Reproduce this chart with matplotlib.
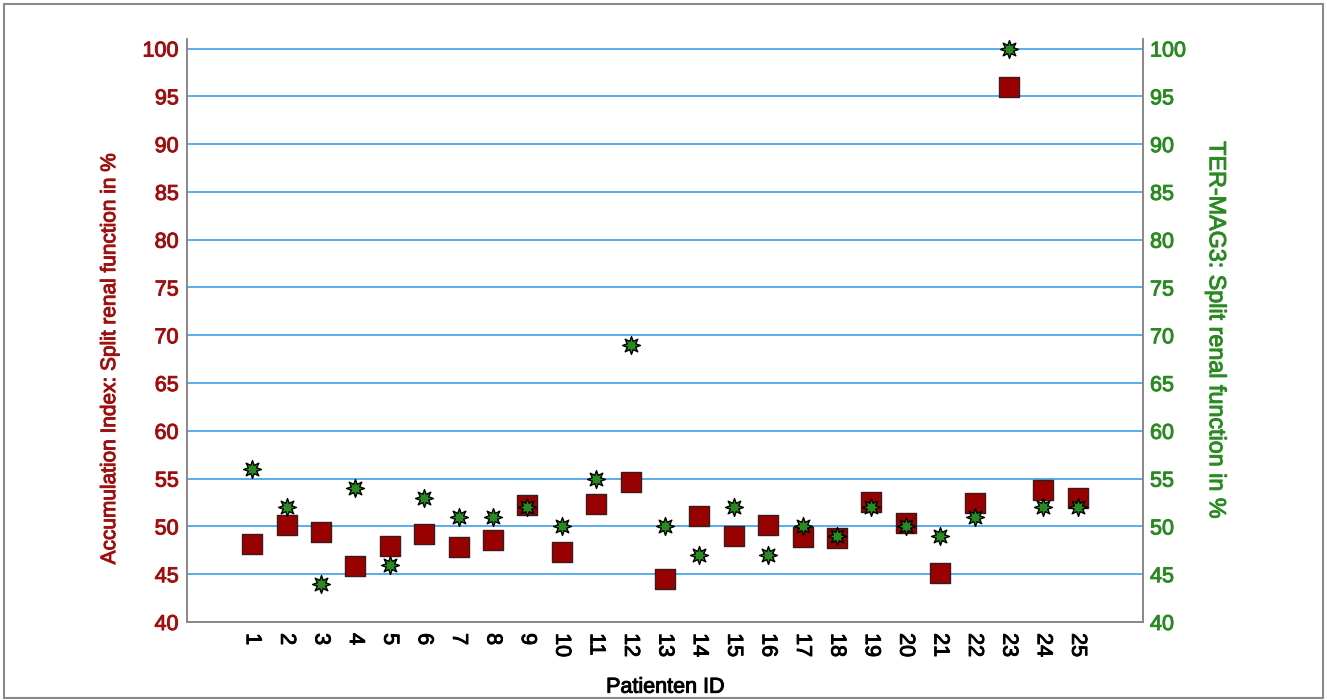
import numpy as np
import matplotlib.pyplot as plt
import matplotlib.patheffects as pe
from matplotlib.patches import Rectangle

plt.rcParams['font.family'] = ['Liberation Sans', 'DejaVu Sans']

# Patienten ID
patients = list(range(1, 26))
# Accumulation Index: split renal function in %
accum = [48.2, 50.1, 49.4, 45.9, 48.0, 49.2, 47.8, 48.6, 52.2, 47.3,
         52.3, 54.6, 44.5, 51.1, 49.0, 50.2, 48.9, 48.8, 52.6, 50.4,
         45.1, 52.5, 96.0, 53.8, 53.0]
# TER-MAG3: split renal function in %
mag3 = [56, 52, 44, 54, 46, 53, 51, 51, 52, 50,
        55, 69, 50, 47, 52, 47, 50, 49, 52, 50,
        49, 51, 100, 52, 52]

red = '#9e1010'
green = '#2a8a22'
grid_c = '#55aeea'


def thick(c):
    # slightly heavier text, like the original rendering
    return [pe.withStroke(linewidth=0.7, foreground=c)]


fig = plt.figure(figsize=(13.27, 7.0), dpi=100)
fig.patches.append(Rectangle((0.003, 0.003), 0.994, 0.992, transform=fig.transFigure,
                             fill=False, edgecolor='#8a8a8a', linewidth=1.5))

ax = fig.add_axes([0.1409, 0.1114, 0.7205, 0.8329])
ax2 = ax.twinx()

yticks = np.arange(40, 101, 5)
for yy in yticks:
    ax.axhline(yy, color=grid_c, linewidth=1.4, zorder=1)

ax.scatter(patients, accum, marker='s', s=210, color='#990000', edgecolors='#3a1a1a',
           linewidths=1.0, zorder=3)
ax2.scatter(patients, mag3, marker=(8, 1, 0), s=165, color=green, edgecolors='black',
            linewidths=1.0, zorder=4)

for a in (ax, ax2):
    a.set_ylim(40, 101)
    a.set_xlim(-0.9, 26.9)
    a.set_yticks(yticks)
    a.spines['top'].set_visible(False)
    for s in ('left', 'right', 'bottom'):
        a.spines[s].set_color('#888888')
        a.spines[s].set_linewidth(1.2)
    a.tick_params(length=0)

ax.set_yticklabels([str(v) for v in yticks], color=red, fontsize=15.5, path_effects=thick(red))
ax2.set_yticklabels([str(v) for v in yticks], color=green, fontsize=15.5, path_effects=thick(green))
ax.tick_params(axis='y', pad=6)
ax2.tick_params(axis='y', pad=5)

ax.set_xticks(patients)
ax.set_xticklabels([str(p) for p in patients], rotation=270, fontsize=15.5, va='top', ha='center',
                   path_effects=thick('black'))
ax.tick_params(axis='x', pad=8)

ax.set_xlabel('Patienten ID', fontsize=15.5, labelpad=14, path_effects=thick('black'))
ax.set_ylabel('Accumulation Index: Split renal function in %', color=red, fontsize=15,
              path_effects=thick(red))
ax.yaxis.set_label_coords(-0.071, 0.453)
ax2.set_ylabel('TER-MAG3: Split renal function in %', color=green, fontsize=16.8,
               rotation=270, labelpad=30, path_effects=thick(green))

plt.savefig('out.png', dpi=100)
